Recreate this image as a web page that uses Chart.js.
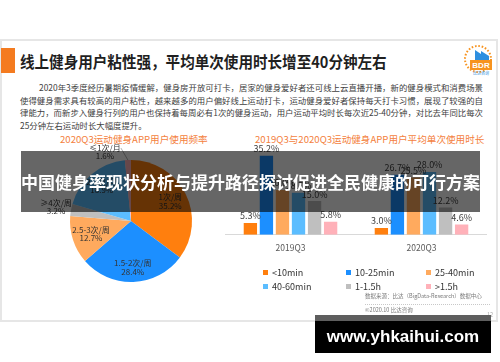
<!DOCTYPE html>
<html lang="zh">
<head>
<meta charset="utf-8">
<title>线上健身用户粘性强</title>
<script src="https://cdn.jsdelivr.net/npm/chart.js@4.4.1/dist/chart.umd.min.js"></script>
<style>
  html, body { margin: 0; padding: 0; background: #fff; }
  body { position: relative; width: 500px; height: 362px; overflow: hidden;
         font-family: "Noto Sans CJK SC", "Noto Sans", sans-serif; }
  .abs { position: absolute; white-space: nowrap; }
  #card { left: 0; top: 39px; width: 494px; height: 279px; border: 2px solid #e6e6e6; }
  #titleBar { left: 1px; top: 48px; width: 14px; height: 25px; background: #f47b20; }
  #title { left: 20px; top: 49px; font-size: 16px; font-weight: bold; color: #1f1f1f;
           line-height: 25px; transform: scaleX(0.91); transform-origin: left center; }
  .para { left: 20px; width: 463px; font-size: 8.4px; line-height: 12px; color: #404040;
          white-space: normal; text-align: justify; text-align-last: justify; }
  .chartTitle { font-size: 9.6px; line-height: 12px; color: #f47f40; }
  .legendItem { font-size: 9px; line-height: 12px; color: #333; }
  .swatch { display: inline-block; width: 5px; height: 5px; margin-right: 4px; vertical-align: 1px; }
  .foot { font-size: 5.5px; line-height: 7px; color: #7a7a7a; }
  #banner { left: 21px; top: 151px; width: 459px; height: 61px; background: rgba(0,0,0,0.6);
            color: #fff; font-size: 17px; font-weight: bold; line-height: 61px; text-align: center; }
  #mark { left: 315px; top: 315px; width: 176px; height: 38px; background: #000; }
  #markTop { left: 0; top: 0; width: 176px; height: 6px; background: #5e5e5e; }
  #markText { left: 0; top: 6px; width: 176px; height: 31px; line-height: 31px; text-align: center;
              color: #fff; font-family: "Liberation Sans", Arial, sans-serif; font-weight: bold; font-size: 17px; }
</style>
</head>
<body>
<div id="card" class="abs"></div>
<div id="titleBar" class="abs"></div>
<div id="title" class="abs">线上健身用户粘性强，平均单次使用时长增至40分钟左右</div>

<!-- BDR 标志 -->
<svg class="abs" style="left:461px; top:42px;" width="34" height="36" viewBox="0 0 34 36">
  <circle cx="17" cy="17" r="13" fill="none" stroke="#f7931e" stroke-width="2" stroke-dasharray="1.6 1.8"/>
  <polygon points="14,8 20,12 20,9 28,14 28,22 14,22" fill="#2d8fe0"/>
  <rect x="9" y="18" width="22" height="10" fill="#f7931e"/>
  <text x="20" y="26.3" font-size="8" font-weight="bold" fill="#fff" text-anchor="middle" font-family="Liberation Sans">BDR</text>
  <text x="20" y="33" font-size="4" fill="#2d8fe0" text-anchor="middle">比达咨询</text>
</svg>

<div class="abs para" style="left:39px; width:444px; top:81px;">2020年3季度经历暑期疫情缓解，健身房开放可打卡，居家的健身爱好者还可线上云直播开播，新的健身模式和消费场景</div>
<div class="abs para" style="top:94px;">使得健身需求具有较高的用户粘性，越来越多的用户偏好线上运动打卡，运动健身爱好者保持每天打卡习惯，展现了较强的自</div>
<div class="abs para" style="top:106px;">律能力，而新步入健身行列的用户也保持着每周必有1次的健身运动，用户运动平均时长每次近25-40分钟，对比去年同比每次</div>
<div class="abs para" style="top:119px; text-align-last:left;">25分钟左右运动时长大幅度提升。</div>

<div class="abs chartTitle" style="left:60px; top:133px;">2020Q3运动健身APP用户使用频率</div>
<div class="abs chartTitle" style="left:255px; top:133px;">2019Q3与2020Q3运动健身APP用户平均单次使用时长</div>

<canvas id="pieChart" class="abs" style="left:30px; top:140px;" width="200" height="150"></canvas>
<canvas id="barChart" class="abs" style="left:225px; top:136px;" width="262" height="125"></canvas>
<div id="legend"></div>

<div class="abs foot" style="left:365px; top:293px;">数据来源：比达（BigData-Research）数据中心</div>
<div class="abs" style="left:365px; top:304px; width:125px; border-top:1px dotted #c8c8c8;"></div>
<div class="abs foot" style="left:365px; top:307px;">©2020.10 比达咨询</div>
<div class="abs foot" style="left:487px; top:312px; color:#aaa;">12</div>

<div id="banner" class="abs">中国健身率现状分析与提升路径探讨促进全民健康的可行方案</div>
<div id="mark" class="abs"><div id="markTop" class="abs"></div><div id="markText" class="abs">www.yhkaihui.com</div></div>

<script>
// 饼图：使用频率
const freqLabels = ['1次/周', '1.5-2次/周', '2.5-3次/周', '≥4次/周', '2-3次/月', '≤1次/月'];
const freqValues = [35.2, 28.4, 12.7, 3.2, 18.9, 1.6];
const freqColors = ['#FF7F0E', '#1C8FFF', '#FFAA5E', '#BFBFBF', '#5BBDFF', '#FFB1B9'];

// 柱状图：平均单次使用时长
const quarters = ['2019Q3', '2020Q3'];
const durationLabels = ['<10min', '10-25min', '25-40min', '40-60min', '1-1.5h', '>1.5h'];
const share2019 = [5.3, 35.2, 20.0, 18.7, 15.0, 5.8];
const share2020 = [3.0, 26.7, 25.5, 28.0, 12.2, 4.6];
const durationColors = ['#FF7F0E', '#1C8FFF', '#FFAA5E', '#5BBDFF', '#BFBFBF', '#FFB1B9'];

const FONT = '"Noto Sans CJK SC", "Noto Sans", sans-serif';

// 饼图标签位置（相对半径），最后一个用引导线放在外面
const pieLabelPos = [
    { r: 0.72 },
    { r: 0.76 },
    { r: 0.69 },
    { r: 1.25 },
    { r: 0.75 },
    { r: 1.0, dx: -23, dy: -8, leader: true }
];

const pieLabelPlugin = {
    id: 'pieLabels',
    afterDatasetsDraw(chart) {
        const ctx = chart.ctx;
        const arcs = chart.getDatasetMeta(0).data;
        ctx.save();
        ctx.font = '8px ' + FONT;
        ctx.fillStyle = '#333';
        ctx.textAlign = 'center';
        ctx.textBaseline = 'middle';
        arcs.forEach((arc, i) => {
            const pos = pieLabelPos[i];
            const mid = (arc.startAngle + arc.endAngle) / 2;
            const r = arc.outerRadius * pos.r;
            const ex = arc.x + Math.cos(mid) * r;
            const ey = arc.y + Math.sin(mid) * r;
            const x = ex + (pos.dx || 0);
            const y = ey + (pos.dy || 0);
            if (pos.leader) {
                ctx.strokeStyle = '#8c8c8c';
                ctx.lineWidth = 0.7;
                ctx.beginPath();
                ctx.moveTo(ex, ey);
                ctx.lineTo(ex - 7, ey - 12);
                ctx.stroke();
            }
            ctx.fillText(freqLabels[i], x, y - 4.2);
            ctx.fillText(freqValues[i].toFixed(1) + '%', x, y + 4.2);
        });
        ctx.restore();
    }
};

new Chart(document.getElementById('pieChart'), {
    type: 'pie',
    data: {
        labels: freqLabels,
        datasets: [{
            data: freqValues,
            backgroundColor: freqColors,
            borderWidth: 0,
            hoverOffset: 0
        }]
    },
    options: {
        responsive: false,
        animation: false,
        events: [],
        layout: { padding: { left: 40, right: 38, top: 20, bottom: 8 } },
        plugins: { legend: { display: false }, tooltip: { enabled: false } }
    },
    plugins: [pieLabelPlugin]
});

// 柱子上方的百分比
const barLabelPlugin = {
    id: 'barLabels',
    afterDatasetsDraw(chart) {
        const ctx = chart.ctx;
        ctx.save();
        ctx.font = '9px ' + FONT;
        ctx.fillStyle = '#404040';
        ctx.textAlign = 'center';
        ctx.textBaseline = 'middle';
        chart.data.datasets.forEach((ds, i) => {
            chart.getDatasetMeta(i).data.forEach((bar, j) => {
                ctx.fillText(ds.data[j].toFixed(1) + '%', bar.x, bar.y - 7);
            });
        });
        ctx.restore();
    }
};

new Chart(document.getElementById('barChart'), {
    type: 'bar',
    data: {
        labels: quarters,
        datasets: durationLabels.map((label, i) => ({
            label: label,
            data: [share2019[i], share2020[i]],
            backgroundColor: durationColors[i],
            categoryPercentage: 0.735,
            barPercentage: 0.83
        }))
    },
    options: {
        responsive: false,
        animation: false,
        events: [],
        layout: { padding: 0 },
        scales: {
            x: {
                grid: { display: false, drawTicks: false },
                border: { display: true, color: '#d9d9d9', width: 1 },
                ticks: { color: '#595959', padding: 8, font: { size: 8.5, family: FONT } }
            },
            y: { display: false, min: 0, max: 44 }
        },
        plugins: { legend: { display: false }, tooltip: { enabled: false } }
    },
    plugins: [barLabelPlugin]
});

// 图例（两行三列）
const legendCols = [263, 346, 426];
const legendRows = [266.5, 280.5];
const legend = document.getElementById('legend');
durationLabels.forEach((label, i) => {
    const item = document.createElement('div');
    item.className = 'abs legendItem';
    item.style.left = legendCols[i % 3] + 'px';
    item.style.top = legendRows[Math.floor(i / 3)] + 'px';
    item.innerHTML = '<span class="swatch" style="background:' + durationColors[i] + '"></span>' +
        label.replace('<', '&lt;').replace('>', '&gt;');
    legend.appendChild(item);
});
</script>
</body>
</html>
